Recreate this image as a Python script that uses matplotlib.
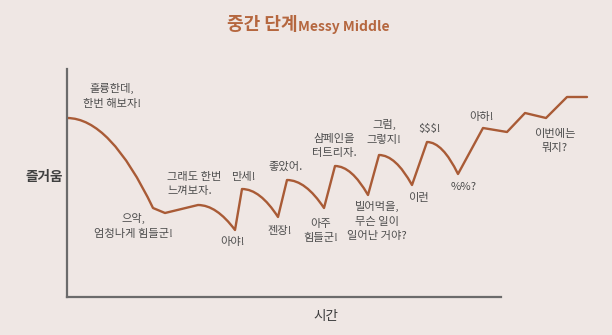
import matplotlib
matplotlib.use("Agg")
import matplotlib.pyplot as plt
from matplotlib.path import Path
from matplotlib.patches import PathPatch

plt.rcParams['font.family'] = ['Noto Sans CJK KR', 'DejaVu Sans']

BG = "#efe7e4"
LINE = "#a95b36"
TITLE = "#b5673f"
TXT = "#4d4d4d"
AXIS = "#6b6b6b"

# knots of the journey (time, joy)
t_knots = [0.0, 8.6, 9.8, 13.1, 16.8, 17.5, 21.1, 22.0, 25.7, 26.8, 30.1,
           31.2, 34.5, 36.0, 39.1, 41.6, 44.0, 45.8, 47.9, 50.0, 52.0]
joy_knots = [17.9, 8.9, 8.4, 9.2, 6.7, 10.8, 8.0, 11.7, 8.9, 13.1, 10.2,
             14.2, 11.2, 15.5, 12.3, 16.9, 16.5, 18.4, 17.9, 20.0, 20.0]
# segments that sag down from a peak (drawn as curves), others are straight
curved = [True, False, False, True, False, True, False, True, False, True,
          False, True, False, True, False, False, False, False, False, False]

# annotations: text, time, joy, alignment
notes = ["훌륭한데,\n한번 해보자!", "으악,\n엄청나게 힘들군!", "그래도 한번\n느껴보자.",
         "만세!", "아야!", "좋았어.", "젠장!", "아주\n힘들군!", "샴페인을\n터트리자.",
         "빌어먹을,\n무슨 일이\n일어난 거야?", "그럼,\n그렇지!", "$$$!", "이런",
         "%%?", "아하!", "이번에는\n뭐지?"]
note_t = [4.5, 6.6, 10.0, 17.6, 16.6, 21.9, 21.3, 25.4, 26.7, 31.0, 31.7,
          36.3, 35.1, 39.7, 41.5, 48.8]
note_joy = [20.1, 7.1, 11.3, 12.0, 5.5, 13.0, 6.6, 6.6, 15.1, 7.6, 16.5,
            16.8, 9.9, 11.0, 18.0, 15.6]
note_ha = ["center", "center", "left"] + ["center"] * 13

fig = plt.figure(figsize=(6.12, 3.35), dpi=100)
fig.patch.set_facecolor(BG)
ax = fig.add_axes([67 / 612, 38 / 335, 540 / 612, 228 / 335])
ax.set_facecolor(BG)
ax.set_xlim(0, 54)
ax.set_ylim(0, 22.8)

verts = [(t_knots[0], joy_knots[0])]
codes = [Path.MOVETO]
for i, c in enumerate(curved):
    x0, y0 = t_knots[i], joy_knots[i]
    x1, y1 = t_knots[i + 1], joy_knots[i + 1]
    if c:
        verts += [((x0 + x1) / 2, y0), (x1, y1)]
        codes += [Path.CURVE3, Path.CURVE3]
    else:
        verts.append((x1, y1))
        codes.append(Path.LINETO)
ax.add_patch(PathPatch(Path(verts, codes), facecolor="none", edgecolor=LINE,
                       lw=1.7, capstyle="round", joinstyle="round"))

for s, x, y, ha in zip(notes, note_t, note_joy, note_ha):
    ax.text(x, y, s, ha=ha, va="center", fontsize=8.1, color=TXT,
            linespacing=1.6)

for side in ["top", "right"]:
    ax.spines[side].set_visible(False)
for side in ["left", "bottom"]:
    ax.spines[side].set_color(AXIS)
    ax.spines[side].set_linewidth(1.6)
ax.spines["bottom"].set_bounds(0, 43.4)
ax.set_xticks([])
ax.set_yticks([])

fig.text(44 / 612, 1 - 177 / 335, "즐거움", ha="center", va="center",
         fontsize=9.8, color="#3f3f3f", fontweight="bold")
fig.text(326 / 612, 1 - 316 / 335, "시간", ha="center", va="center",
         fontsize=9.8, color="#3f3f3f")

t1 = fig.text(227 / 612, 1 - 25 / 335, "중간 단계", ha="left", va="center",
              fontsize=13, color=TITLE, fontweight="bold")
ax.annotate("Messy Middle", xy=(1, 0), xycoords=t1, ha="left", va="bottom",
            fontsize=10, color=TITLE, fontweight="bold",
            annotation_clip=False)
plt.savefig("out.png", dpi=100, facecolor=BG)
